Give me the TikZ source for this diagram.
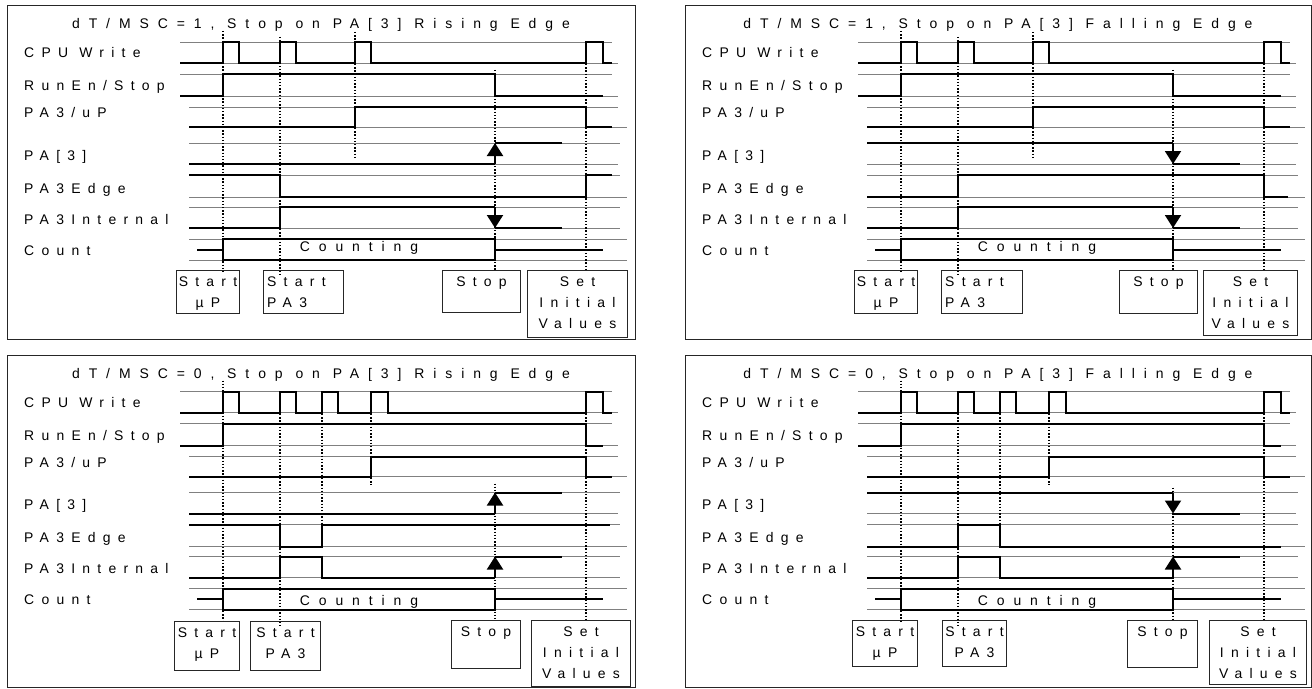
\documentclass[tikz,border=0pt]{standalone}
\usepackage{fontspec}
\setmainfont{Liberation Sans}[LetterSpace=52]
\newfontfamily\ttlfam{Liberation Sans}[LetterSpace=64]
\usetikzlibrary{arrows.meta}
\newcommand\lblfont{\fontsize{14}{21}\selectfont}
\newcommand\ttlfont{\ttlfam\fontsize{14}{21}\selectfont}
% row levels (high / low), relative to panel top
\newcommand\rAh{42}\newcommand\rAl{63}
\newcommand\rBh{74}\newcommand\rBl{96}
\newcommand\rCh{107}\newcommand\rCl{127}
\newcommand\rDh{143}\newcommand\rDl{164}
\newcommand\rEh{175}\newcommand\rEl{197}
\newcommand\rFh{207}\newcommand\rFl{228}
\newcommand\rGh{239}\newcommand\rGl{260}\newcommand\rGm{249.5}
\newcommand\rowgrid{%
  \draw[lvl] (180,\rAh) -- (612,\rAh) (180,\rAl) -- (618,\rAl)
             (180,\rBh) -- (612,\rBh) (180,\rBl) -- (618,\rBl)
             (189,\rCh) -- (618,\rCh) (189,\rCl) -- (627,\rCl)
             (189,\rDh) -- (620,\rDh) (189,\rDl) -- (618,\rDl)
             (189,\rEh) -- (620,\rEh) (189,\rEl) -- (627,\rEl)
             (189,\rFh) -- (620,\rFh) (189,\rFl) -- (620,\rFl)
             (189,\rGh) -- (627,\rGh) (189,\rGl) -- (627,\rGl);}
\newcommand\rowlabels[1]{%
  \node[lbl] (#1la) at (24,58) {CPU Write};
  \node[lbl] (#1lb) at (24,91) {RunEn/Stop};
  \node[lbl] (#1lc) at (24,118) {PA3/uP};
  \node[lbl] (#1ld) at (24,160) {PA[3]};
  \node[lbl] (#1le) at (24,193) {PA3Edge};
  \node[lbl] (#1lf) at (24,224) {PA3Internal};
  \node[lbl] (#1lg) at (24,255) {Count};}
\newcommand\countrow[2]{%
  \draw[sig] (197,\rGm) -- (223,\rGm) (223,\rGh) rectangle (495,\rGl) (495,\rGm) -- (603,\rGm);
  \node[ttl] (#1cnt) at (359,#2) {Counting};}
% signals shared by the dT/MSC=1 panels
\newcommand\sigcpuA{\draw[sig] (180,\rAl) -- (223,\rAl) -- (223,\rAh) -- (239,\rAh) -- (239,\rAl)
  -- (280,\rAl) -- (280,\rAh) -- (296,\rAh) -- (296,\rAl) -- (355,\rAl) -- (355,\rAh) -- (371,\rAh)
  -- (371,\rAl) -- (586,\rAl) -- (586,\rAh) -- (603,\rAh) -- (603,\rAl) -- (612,\rAl);}
\newcommand\sigrunA{\draw[sig] (180,\rBl) -- (223,\rBl) -- (223,\rBh) -- (495,\rBh) -- (495,\rBl) -- (603,\rBl);}
\newcommand\siguPA{\draw[sig] (189,\rCl) -- (355,\rCl) -- (355,\rCh) -- (586,\rCh) -- (586,\rCl) -- (612,\rCl);}
\newcommand\sigintA{\draw[sig] (189,\rFl) -- (280,\rFl) -- (280,\rFh) -- (495,\rFh);
  \draw[arr] (495,\rFh) -- (495,\rFl);
  \draw[sig] (495,\rFl) -- (562,\rFl);}
% signals shared by the dT/MSC=0 panels
\newcommand\sigcpuB{\draw[sig] (180,\rAl) -- (223,\rAl) -- (223,\rAh) -- (239,\rAh) -- (239,\rAl)
  -- (280,\rAl) -- (280,\rAh) -- (296,\rAh) -- (296,\rAl) -- (322,\rAl) -- (322,\rAh) -- (338,\rAh)
  -- (338,\rAl) -- (371,\rAl) -- (371,\rAh) -- (388,\rAh) -- (388,\rAl) -- (586,\rAl) -- (586,\rAh)
  -- (603,\rAh) -- (603,\rAl) -- (612,\rAl);}
\newcommand\sigrunB{\draw[sig] (180,\rBl) -- (223,\rBl) -- (223,\rBh) -- (586,\rBh) -- (586,\rBl) -- (603,\rBl);}
\newcommand\siguPB{\draw[sig] (189,\rCl) -- (371,\rCl) -- (371,\rCh) -- (586,\rCh) -- (586,\rCl) -- (612,\rCl);}
\newcommand\sigintB{\draw[sig] (189,\rFl) -- (280,\rFl) -- (280,\rFh) -- (322,\rFh) -- (322,\rFl) -- (495,\rFl);
  \draw[arr] (495,\rFl) -- (495,\rFh);
  \draw[sig] (495,\rFh) -- (562,\rFh);}
% PA[3]
\newcommand\sigpaRise{\draw[sig] (189,\rDl) -- (495,\rDl);
  \draw[arr] (495,\rDl) -- (495,\rDh);
  \draw[sig] (495,\rDh) -- (562,\rDh);}
\newcommand\sigpaFall{\draw[sig] (189,\rDh) -- (495,\rDh);
  \draw[arr] (495,\rDh) -- (495,\rDl);
  \draw[sig] (495,\rDl) -- (562,\rDl);}
\begin{document}
\begin{tikzpicture}[x=1bp,y=-1bp,
  lvl/.style={draw=black!50, line width=0.9bp},
  sig/.style={draw=black, line width=2bp},
  arr/.style={sig, -{Triangle[width=16bp,length=13bp]}},
  guide/.style={draw=black, line width=1.4bp, dash pattern=on 1.4bp off 1.8bp},
  frame/.style={draw=black!85, line width=1bp},
  lbl/.style={anchor=base west, inner sep=0pt, font=\lblfont},
  ttl/.style={anchor=base, inner sep=0pt, font=\ttlfont},
  evbox/.style={draw=black!85, line width=1bp, inner sep=0pt, anchor=north west},
  evtxt/.style={anchor=north, inner sep=0pt, align=center, font=\lblfont},
  evtxtl/.style={anchor=north west, inner sep=0pt, align=left, font=\lblfont}]
\useasboundingbox (0,0) rectangle (1312,688);
\fill[white] (0,0) rectangle (1312,688);
% panel frames
\draw[frame] (7,6) rectangle (635,339);
\draw[frame] (685,6) rectangle (1311,339);
\draw[frame] (7,355) rectangle (635,687);
\draw[frame] (685,355) rectangle (1311,687);

% ---------------- Panel 1 ----------------
\begin{scope}
  \rowgrid
  \draw[guide] (223,31) -- (223,272) (280,37) -- (280,276) (355,32) -- (355,157)
               (495,70) -- (495,270) (586,64) -- (586,270);
  \node[ttl] (p1t) at (321,29) {dT/MSC=1, Stop on PA[3] Rising Edge};
  \rowlabels{p1}
  \sigcpuA \sigrunA \siguPA \sigpaRise
  \draw[sig] (189,\rEh) -- (280,\rEh) -- (280,\rEl) -- (586,\rEl) -- (586,\rEh) -- (612,\rEh);
  \sigintA
  \countrow{p1}{251}
\end{scope}

% ---------------- Panel 2 ----------------
\begin{scope}[shift={(678,0)}]
  \rowgrid
  \draw[guide] (223,31) -- (223,272) (280,37) -- (280,276) (355,32) -- (355,157)
               (495,70) -- (495,270) (586,64) -- (586,270);
  \node[ttl] (p2t) at (320,29) {dT/MSC=1, Stop on PA[3] Falling Edge};
  \rowlabels{p2}
  \sigcpuA \sigrunA \siguPA \sigpaFall
  \draw[sig] (189,\rEl) -- (280,\rEl) -- (280,\rEh) -- (586,\rEh) -- (586,\rEl) -- (610,\rEl);
  \sigintA
  \countrow{p2}{251.5}
\end{scope}

% ---------------- Panel 3 ----------------
\begin{scope}[shift={(0,349.5)}]
  \rowgrid
  \draw[guide] (223,31) -- (223,272) (280,42) -- (280,276) (322,42) -- (322,175.5)
               (371,42) -- (371,135.5) (495,134) -- (495,271) (586,42) -- (586,271);
  \node[ttl] (p3t) at (321,28.5) {dT/MSC=0, Stop on PA[3] Rising Edge};
  \rowlabels{p3}
  \sigcpuB \sigrunB \siguPB \sigpaRise
  \draw[sig] (189,\rEh) -- (280,\rEh) -- (280,\rEl) -- (322,\rEl) -- (322,\rEh) -- (610,\rEh);
  \sigintB
  \countrow{p3}{255.5}
\end{scope}

% ---------------- Panel 4 ----------------
\begin{scope}[shift={(678,349.5)}]
  \rowgrid
  \draw[guide] (223,31) -- (223,272) (280,42) -- (280,276) (322,42) -- (322,175.5)
               (371,42) -- (371,135.5) (495,138) -- (495,271) (586,42) -- (586,271);
  \node[ttl] (p4t) at (320,28.5) {dT/MSC=0, Stop on PA[3] Falling Edge};
  \rowlabels{p4}
  \sigcpuB \sigrunB \siguPB \sigpaFall
  \draw[sig] (189,\rEl) -- (280,\rEl) -- (280,\rEh) -- (322,\rEh) -- (322,\rEl) -- (603,\rEl);
  \sigintB
  \countrow{p4}{255.5}
\end{scope}

% ---------------- event boxes ----------------
% panel 1
\node[evbox, minimum width=63bp, minimum height=43bp] (p1su) at (176,270) {};
\node[evtxt] (p1sut) at ([yshift=-6.5bp]p1su.north) {Start\\µP};
\node[evbox, minimum width=80bp, minimum height=43bp] (p1sp) at (263,270) {};
\node[evtxtl] (p1spt) at ([xshift=4bp,yshift=-6.5bp]p1sp.north west) {Start\\PA3};
\node[evbox, minimum width=78bp, minimum height=42bp] (p1st) at (442,270) {};
\node[evtxt] (p1stt) at ([yshift=-6.5bp]p1st.north) {Stop};
\node[evbox, minimum width=100bp, minimum height=67bp] (p1si) at (527,270) {};
\node[evtxt] (p1sit) at ([yshift=-6.5bp]p1si.north) {Set\\Initial\\Values};
% panel 2
\node[evbox, minimum width=63bp, minimum height=43bp] (p2su) at (854,270) {};
\node[evtxt] (p2sut) at ([yshift=-6.5bp]p2su.north) {Start\\µP};
\node[evbox, minimum width=81bp, minimum height=43bp] (p2sp) at (941,270) {};
\node[evtxtl] (p2spt) at ([xshift=4bp,yshift=-6.5bp]p2sp.north west) {Start\\PA3};
\node[evbox, minimum width=78bp, minimum height=43bp] (p2st) at (1119,270) {};
\node[evtxt] (p2stt) at ([yshift=-6.5bp]p2st.north) {Stop};
\node[evbox, minimum width=94bp, minimum height=65bp] (p2si) at (1203,270) {};
\node[evtxt] (p2sit) at ([yshift=-6.5bp]p2si.north) {Set\\Initial\\Values};
% panel 3
\node[evbox, minimum width=65bp, minimum height=49bp] (p3su) at (174,621) {};
\node[evtxt] (p3sut) at ([yshift=-6.5bp]p3su.north) {Start\\µP};
\node[evbox, minimum width=70bp, minimum height=49bp] (p3sp) at (250,621) {};
\node[evtxt] (p3spt) at ([yshift=-6.5bp]p3sp.north) {Start\\PA3};
\node[evbox, minimum width=69bp, minimum height=48bp] (p3st) at (451,620) {};
\node[evtxt] (p3stt) at ([yshift=-6.5bp]p3st.north) {Stop};
\node[evbox, minimum width=99bp, minimum height=66bp] (p3si) at (531,620) {};
\node[evtxt] (p3sit) at ([yshift=-6.5bp]p3si.north) {Set\\Initial\\Values};
% panel 4
\node[evbox, minimum width=65bp, minimum height=46bp] (p4su) at (852,620) {};
\node[evtxt] (p4sut) at ([yshift=-6.5bp]p4su.north) {Start\\µP};
\node[evbox, minimum width=64bp, minimum height=46bp] (p4sp) at (942,620) {};
\node[evtxt] (p4spt) at ([yshift=-6.5bp]p4sp.north) {Start\\PA3};
\node[evbox, minimum width=70bp, minimum height=47bp] (p4st) at (1127,620) {};
\node[evtxt] (p4stt) at ([yshift=-6.5bp]p4st.north) {Stop};
\node[evbox, minimum width=97bp, minimum height=64bp] (p4si) at (1209,620) {};
\node[evtxt] (p4sit) at ([yshift=-6.5bp]p4si.north) {Set\\Initial\\Values};
\end{tikzpicture}
\end{document}
